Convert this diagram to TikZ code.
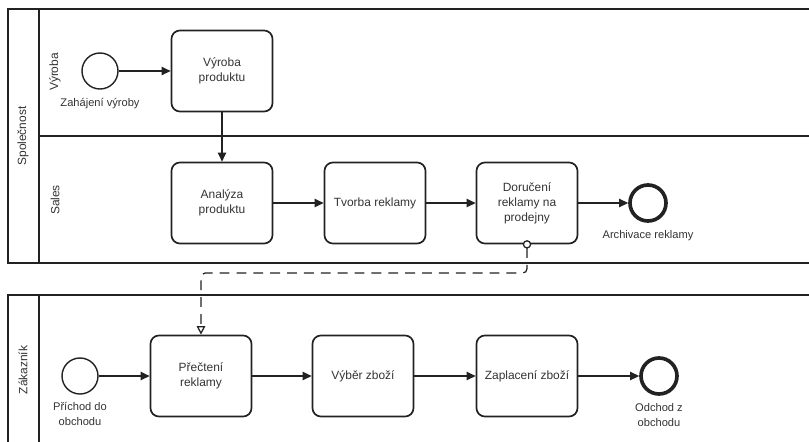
\documentclass[tikz,border=0pt]{standalone}
\usepackage{fontspec}
\setmainfont{Liberation Sans}
\usetikzlibrary{arrows.meta,positioning}

\definecolor{inkc}{HTML}{222222}
\definecolor{txtc}{HTML}{333333}

\tikzset{
    task/.style={draw=inkc, line width=1.2pt, rounded corners=6pt, minimum width=2.525cm, minimum height=2.025cm, align=center, text=txtc, font=\fontsize{8.5}{10.6}\selectfont},
    startev/.style={draw=inkc, circle, line width=1pt, minimum size=0.9cm, inner sep=0pt},
    endev/.style={draw=inkc, circle, line width=2.6pt, minimum size=0.9cm, inner sep=0pt},
    evlabel/.style={align=center, text=txtc, font=\fontsize{7.9}{11}\selectfont, inner sep=1pt},
    lanelabel/.style={rotate=90, text=txtc, font=\fontsize{8.5}{10}\selectfont},
    flow/.style={draw=inkc, line width=1.1pt, -{Triangle[length=6.5pt,width=6pt]}},
    msgflow/.style={draw=inkc, line width=0.9pt, dash pattern=on 7pt off 5pt, rounded corners=3pt,
        {Circle[length=6pt,fill=white]}-{Triangle[open,length=6pt,width=6pt]}, shorten <=-3pt},
    pool/.style={draw=inkc, line width=1pt}
}

\begin{document}
\begin{tikzpicture}[x=0.025cm,y=-0.025cm]

    \useasboundingbox (0,0) rectangle (809,441);
    \clip (0,0) rectangle (809,441);

    % pools and lanes
    \draw[pool] (8,9) rectangle (830,263);
    \draw[pool] (39,9) -- (39,263);
    \draw[pool] (39,136) -- (830,136);
    \draw[pool] (8,295) rectangle (830,470);
    \draw[pool] (39,295) -- (39,470);

    \node[lanelabel] (spolecnost) at (23,136) {Společnost};
    \node[lanelabel] (lnvyroba) at (55,72) {Výroba};
    \node[lanelabel] (lnsales) at (55,200) {Sales};
    \node[lanelabel] (zakaznik) at (23,370) {Zákazník};

    % Spolecnost
    \node[startev] (zahajeni) at (100,71) {};
    \node[evlabel, below=5pt of zahajeni] (zahajenilbl) {Zahájení výroby};
    \node[task] (vyroba) at (222,71) {Výroba\\produktu};
    \node[task] (analyza) at (222,203) {Analýza\\produktu};
    \node[task] (tvorba) at (375,203) {Tvorba reklamy};
    \node[task] (doruceni) at (527,203) {Doručení\\reklamy na\\prodejny};
    \node[endev] (archivace) at (648,203) {};
    \node[evlabel, below=4pt of archivace] (archivacelbl) {Archivace reklamy};

    % Zakaznik
    \node[startev] (prichod) at (80,376) {};
    \node[evlabel, below=4pt of prichod] (prichodlbl) {Příchod do\\obchodu};
    \node[task] (precteni) at (201,376) {Přečtení\\reklamy};
    \node[task] (vyber) at (363,376) {Výběr zboží};
    \node[task] (zaplaceni) at (527,376) {Zaplacení zboží};
    \node[endev] (odchod) at (659,376) {};
    \node[evlabel, below=4pt of odchod] (odchodlbl) {Odchod z\\obchodu};

    \foreach \a/\b in {zahajeni/vyroba, vyroba/analyza, analyza/tvorba, tvorba/doruceni, doruceni/archivace,
                       prichod/precteni, precteni/vyber, vyber/zaplaceni, zaplaceni/odchod}
    {
        \draw[flow] (\a) -- (\b);
    }

    % message flow
    \coordinate (msgbend) at (360,273);
    \draw[msgflow] (doruceni.south) |- (msgbend) -| (precteni.north);

\end{tikzpicture}
\end{document}
